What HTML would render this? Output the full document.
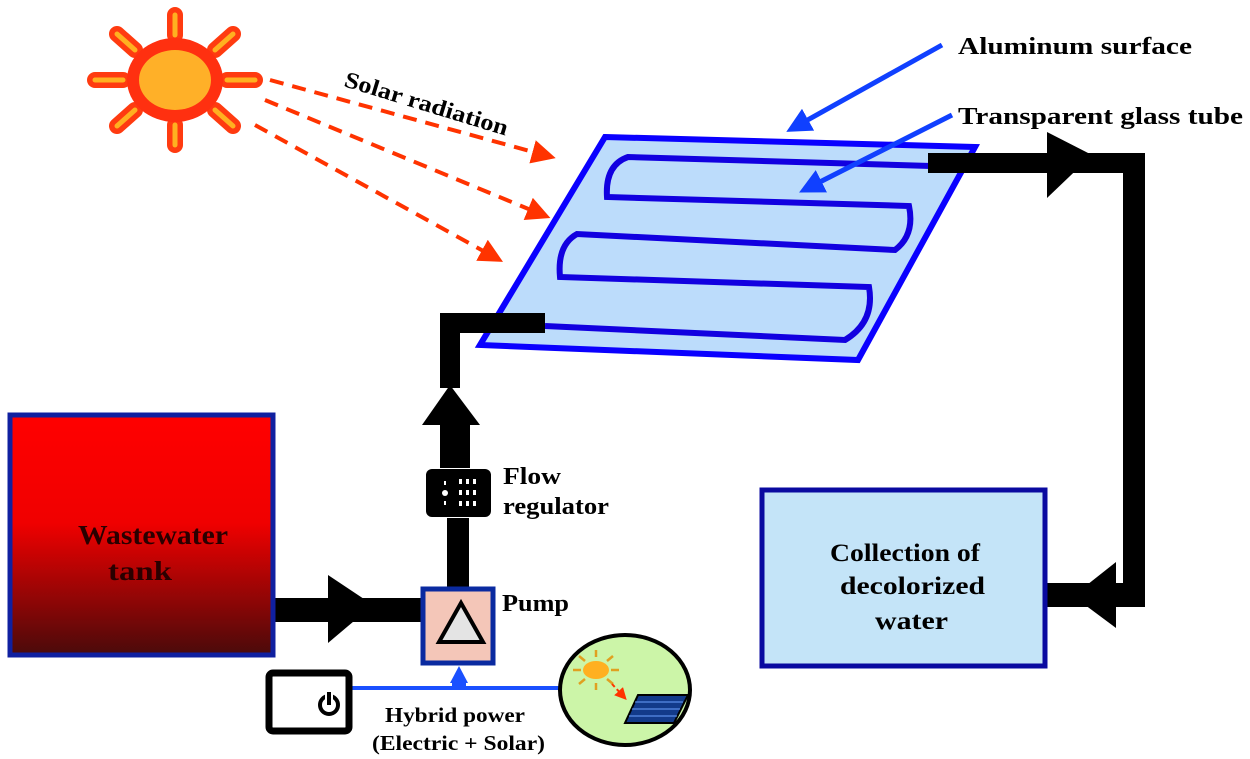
<!DOCTYPE html>
<html><head><meta charset="utf-8"><style>
html,body{margin:0;padding:0;background:#fff;width:1250px;height:759px;overflow:hidden}
text{font-family:"Liberation Serif",serif;font-weight:bold;fill:#000}
</style></head><body>
<svg width="1250" height="759" viewBox="0 0 1250 759" xmlns="http://www.w3.org/2000/svg">
<defs>
<linearGradient id="tank" x1="0" y1="0" x2="0" y2="1">
<stop offset="0" stop-color="#ff0000"/><stop offset="0.45" stop-color="#f00000"/><stop offset="1" stop-color="#4a0a0a"/>
</linearGradient>
<marker id="ra" markerWidth="6" markerHeight="6" refX="4" refY="3" orient="auto"><path d="M0,0 L6,3 L0,6 Z" fill="#ff3300"/></marker>
<marker id="ba" markerWidth="5" markerHeight="5" refX="3" refY="2.5" orient="auto"><path d="M0,0 L5,2.5 L0,5 Z" fill="#1040ff"/></marker>
</defs>

<!-- Sun -->
<g transform="translate(175,80)">
<g stroke="#ff3b10" stroke-width="16" stroke-linecap="round">
<line x1="0" y1="-45" x2="0" y2="-65"/><line x1="0" y1="45" x2="0" y2="65"/>
<line x1="-52" y1="0" x2="-80" y2="0"/><line x1="52" y1="0" x2="80" y2="0"/>
<line x1="-40" y1="-30" x2="-58" y2="-46"/><line x1="40" y1="-30" x2="58" y2="-46"/>
<line x1="-40" y1="30" x2="-58" y2="46"/><line x1="40" y1="30" x2="58" y2="46"/>
</g>
<g stroke="#ffb020" stroke-width="5" stroke-linecap="round">
<line x1="0" y1="-45" x2="0" y2="-65"/><line x1="0" y1="45" x2="0" y2="65"/>
<line x1="-52" y1="0" x2="-80" y2="0"/><line x1="52" y1="0" x2="80" y2="0"/>
<line x1="-40" y1="-30" x2="-58" y2="-46"/><line x1="40" y1="-30" x2="58" y2="-46"/>
<line x1="-40" y1="30" x2="-58" y2="46"/><line x1="40" y1="30" x2="58" y2="46"/>
</g>
<ellipse rx="48" ry="42" fill="#ff3010"/>
<ellipse rx="36" ry="30" fill="#ffb028"/>
</g>

<!-- Solar radiation dashed -->
<g stroke="#ff3300" stroke-width="4" stroke-dasharray="14,9" fill="none">
<line x1="270" y1="80" x2="548" y2="156" marker-end="url(#ra)"/>
<line x1="265" y1="100" x2="543" y2="215" marker-end="url(#ra)"/>
<line x1="255" y1="125" x2="496" y2="258" marker-end="url(#ra)"/>
</g>
<text x="343" y="86" font-size="23" transform="rotate(17 343 86)" textLength="170" lengthAdjust="spacingAndGlyphs">Solar radiation</text>

<!-- Panel -->
<polygon points="605,137 975,147 858,360 480,345" fill="#bcdcfb" stroke="#0a00ff" stroke-width="6"/>
<g fill="none" stroke="#1200e0" stroke-width="6">
<path d="M931,166 L628,157 Q605,165 607,197 L909,206 Q915,235 895,250 L577,234 Q557,245 560,277 L869,287 Q875,322 845,340 L545,326"/>
</g>

<!-- blue pointer arrows -->
<g stroke="#1040ff" stroke-width="5" fill="none">
<line x1="942" y1="45" x2="795" y2="127" marker-end="url(#ba)"/>
<line x1="952" y1="115" x2="808" y2="188" marker-end="url(#ba)"/>
</g>
<text x="958" y="54" font-size="24" textLength="234" lengthAdjust="spacingAndGlyphs">Aluminum surface</text>
<text x="958" y="124" font-size="24" textLength="285" lengthAdjust="spacingAndGlyphs">Transparent glass tube</text>

<!-- pipes -->
<g fill="#000">
<rect x="928" y="153" width="217" height="20"/>
<polygon points="1047,132 1092,155 1047,198"/>
<rect x="1123" y="153" width="22" height="454"/>
<rect x="1028" y="583" width="100" height="24"/>
<polygon points="1116,562 1073,596 1116,628"/>
<rect x="440" y="313" width="105" height="20"/>
<rect x="440" y="313" width="20" height="75"/>
<polygon points="450,385 422,425 480,425"/>
<rect x="440" y="420" width="30" height="48"/>
<rect x="447" y="518" width="22" height="70"/>
<rect x="272" y="598" width="150" height="24"/>
<polygon points="328,575 373,605 328,643"/>
</g>

<!-- Flow regulator -->
<rect x="426" y="469" width="65" height="48" rx="6" fill="#000"/>
<g fill="#fff">
<rect x="459" y="479" width="3" height="5"/><rect x="466" y="479" width="3" height="5"/><rect x="473" y="479" width="3" height="5"/>
<rect x="459" y="490" width="3" height="5"/><rect x="466" y="490" width="3" height="5"/><rect x="473" y="490" width="3" height="5"/>
<rect x="459" y="501" width="3" height="5"/><rect x="466" y="501" width="3" height="5"/><rect x="473" y="501" width="3" height="5"/>
<circle cx="445" cy="493" r="3"/><rect x="444" y="481" width="2" height="4"/><rect x="444" y="501" width="2" height="4"/>
</g>
<text x="503" y="484" font-size="24" textLength="58" lengthAdjust="spacingAndGlyphs">Flow</text>
<text x="503" y="514" font-size="24" textLength="106" lengthAdjust="spacingAndGlyphs">regulator</text>

<!-- Pump -->
<rect x="423" y="589" width="70" height="74" fill="#f4c6b8" stroke="#0a2aa0" stroke-width="5"/>
<polygon points="461,603 439,642 483,642" fill="#e4e4e4" stroke="#000" stroke-width="4"/>
<text x="502" y="611" font-size="24" textLength="67" lengthAdjust="spacingAndGlyphs">Pump</text>

<!-- power line -->
<line x1="350" y1="688" x2="560" y2="688" stroke="#1a50ff" stroke-width="4"/>
<polygon points="459,666 450,683 468,683" fill="#1a50ff"/>
<rect x="452" y="680" width="14" height="6" fill="#1a50ff"/>
<rect x="269" y="673" width="80" height="58" rx="4" fill="#fff" stroke="#000" stroke-width="7"/>
<circle cx="329" cy="705" r="9" fill="none" stroke="#000" stroke-width="4"/>
<rect x="325" y="690" width="8" height="14" fill="#fff"/>
<rect x="327" y="692" width="4" height="13" fill="#000"/>
<text x="385" y="722" font-size="21" textLength="140" lengthAdjust="spacingAndGlyphs">Hybrid power</text>
<text x="372" y="750" font-size="21" textLength="173" lengthAdjust="spacingAndGlyphs">(Electric + Solar)</text>

<ellipse cx="625" cy="690" rx="65" ry="55" fill="#ccf5a8" stroke="#000" stroke-width="4"/>
<g transform="translate(596,670)" stroke="#e0a020" stroke-width="2.5">
<line x1="0" y1="-13" x2="0" y2="-20"/><line x1="0" y1="13" x2="0" y2="20"/>
<line x1="-15" y1="0" x2="-23" y2="0"/><line x1="15" y1="0" x2="23" y2="0"/>
<line x1="-11" y1="-9" x2="-17" y2="-14"/><line x1="11" y1="-9" x2="17" y2="-14"/>
<line x1="-11" y1="9" x2="-17" y2="14"/><line x1="11" y1="9" x2="17" y2="14"/>
<ellipse rx="13" ry="9" fill="#ffb020" stroke="none"/>
</g>
<line x1="612" y1="684" x2="624" y2="697" stroke="#ff3300" stroke-width="2" stroke-dasharray="4,3" marker-end="url(#ra)"/>
<polygon points="638,695 688,695 674,723 625,723" fill="#123a8a" stroke="#000" stroke-width="2"/>
<g stroke="#6aa0ff" stroke-width="1"><line x1="635" y1="702" x2="683" y2="702"/><line x1="632" y1="709" x2="680" y2="709"/><line x1="629" y1="716" x2="677" y2="716"/></g>

<!-- Wastewater tank -->
<rect x="10" y="415" width="263" height="240" fill="url(#tank)" stroke="#1020a0" stroke-width="5"/>
<text x="78" y="544" font-size="27" textLength="150" lengthAdjust="spacingAndGlyphs" style="fill:#2a0000">Wastewater</text>
<text x="108" y="580" font-size="27" textLength="64" lengthAdjust="spacingAndGlyphs" style="fill:#2a0000">tank</text>

<!-- Collection -->
<rect x="762" y="490" width="283" height="176" fill="#c4e4f8" stroke="#0a0aa0" stroke-width="5"/>
<text x="830" y="561" font-size="25" textLength="150" lengthAdjust="spacingAndGlyphs">Collection of</text>
<text x="840" y="594" font-size="25" textLength="145" lengthAdjust="spacingAndGlyphs">decolorized</text>
<text x="875" y="629" font-size="25" textLength="73" lengthAdjust="spacingAndGlyphs">water</text>
</svg>
</body></html>
